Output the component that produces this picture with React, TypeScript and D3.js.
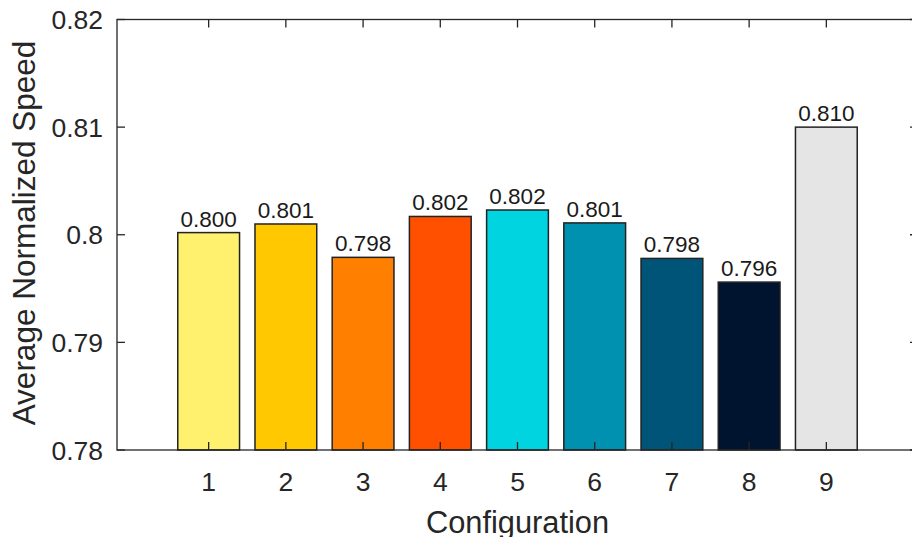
import React from "react";
import * as d3 from "d3";

// Average normalized speed per configuration
const configurations = [1, 2, 3, 4, 5, 6, 7, 8, 9];
const speeds = [0.8002, 0.801, 0.7979, 0.8017, 0.8023, 0.8011, 0.7978, 0.7956, 0.81];
const barColors = [
  "#FFF06E",
  "#FFC800",
  "#FF8000",
  "#FF5000",
  "#00D4E0",
  "#0091B0",
  "#005478",
  "#001430",
  "#E5E5E5",
];
const yTicks = [0.78, 0.79, 0.8, 0.81, 0.82];
const yTickLabels = ["0.78", "0.79", "0.8", "0.81", "0.82"];

const W = 912;
const H = 537;
const left = 117;
const right = 918;
const top = 19.5;
const bottom = 450;
const axisColor = "#262626";
const font = "'Liberation Sans', Arial, Helvetica, sans-serif";

export default function App() {
  const x = d3.scaleLinear().domain([-0.187, 10.187]).range([left, right]);
  const y = d3.scaleLinear().domain([0.78, 0.82]).range([bottom, top]);
  const barW = (x(1) - x(0)) * 0.8;
  const fmt = d3.format(".3f");
  const tickLen = 8;

  return (
    <svg
      width={W}
      height={H}
      style={{ position: "absolute", left: 0, top: 0, background: "#fff" }}
      fontFamily={font}
    >
      <rect x={0} y={0} width={W} height={H} fill="#fff" />
      {configurations.map((c, i) => (
        <rect
          key={c}
          x={x(c) - barW / 2}
          y={y(speeds[i])}
          width={barW}
          height={y(0.78) - y(speeds[i])}
          fill={barColors[i]}
          stroke="#222"
          strokeWidth={1.5}
        />
      ))}
      {configurations.map((c, i) => (
        <text
          key={"v" + c}
          x={x(c)}
          y={y(speeds[i]) - 6}
          textAnchor="middle"
          fontSize={22.5}
          fill="#1a1a1a"
        >
          {fmt(speeds[i])}
        </text>
      ))}
      {/* axes box */}
      <rect
        x={left}
        y={top}
        width={right - left}
        height={bottom - top}
        fill="none"
        stroke={axisColor}
        strokeWidth={1.3}
      />
      {yTicks.map((t, i) => (
        <g key={"y" + t}>
          <line x1={left} x2={left + tickLen} y1={y(t)} y2={y(t)} stroke={axisColor} strokeWidth={1.3} />
          <line x1={right} x2={right - tickLen} y1={y(t)} y2={y(t)} stroke={axisColor} strokeWidth={1.3} />
          <text
            x={left - 14}
            y={y(t) + 9.5}
            textAnchor="end"
            fontSize={26.5}
            fill={axisColor}
          >
            {yTickLabels[i]}
          </text>
        </g>
      ))}
      {configurations.map((c) => (
        <g key={"x" + c}>
          <line x1={x(c)} x2={x(c)} y1={bottom} y2={bottom - tickLen} stroke={axisColor} strokeWidth={1.3} />
          <line x1={x(c)} x2={x(c)} y1={top} y2={top + tickLen} stroke={axisColor} strokeWidth={1.3} />
          <text x={x(c)} y={491} textAnchor="middle" fontSize={26.5} fill={axisColor}>
            {c}
          </text>
        </g>
      ))}
      <text x={(426 + 609) / 2} y={533} textAnchor="middle" fontSize={30.8} fill={axisColor}>
        Configuration
      </text>
      <text
        transform={`translate(35, 233) rotate(-90)`}
        textAnchor="middle"
        fontSize={31.5}
        fill={axisColor}
      >
        Average Normalized Speed
      </text>
    </svg>
  );
}
